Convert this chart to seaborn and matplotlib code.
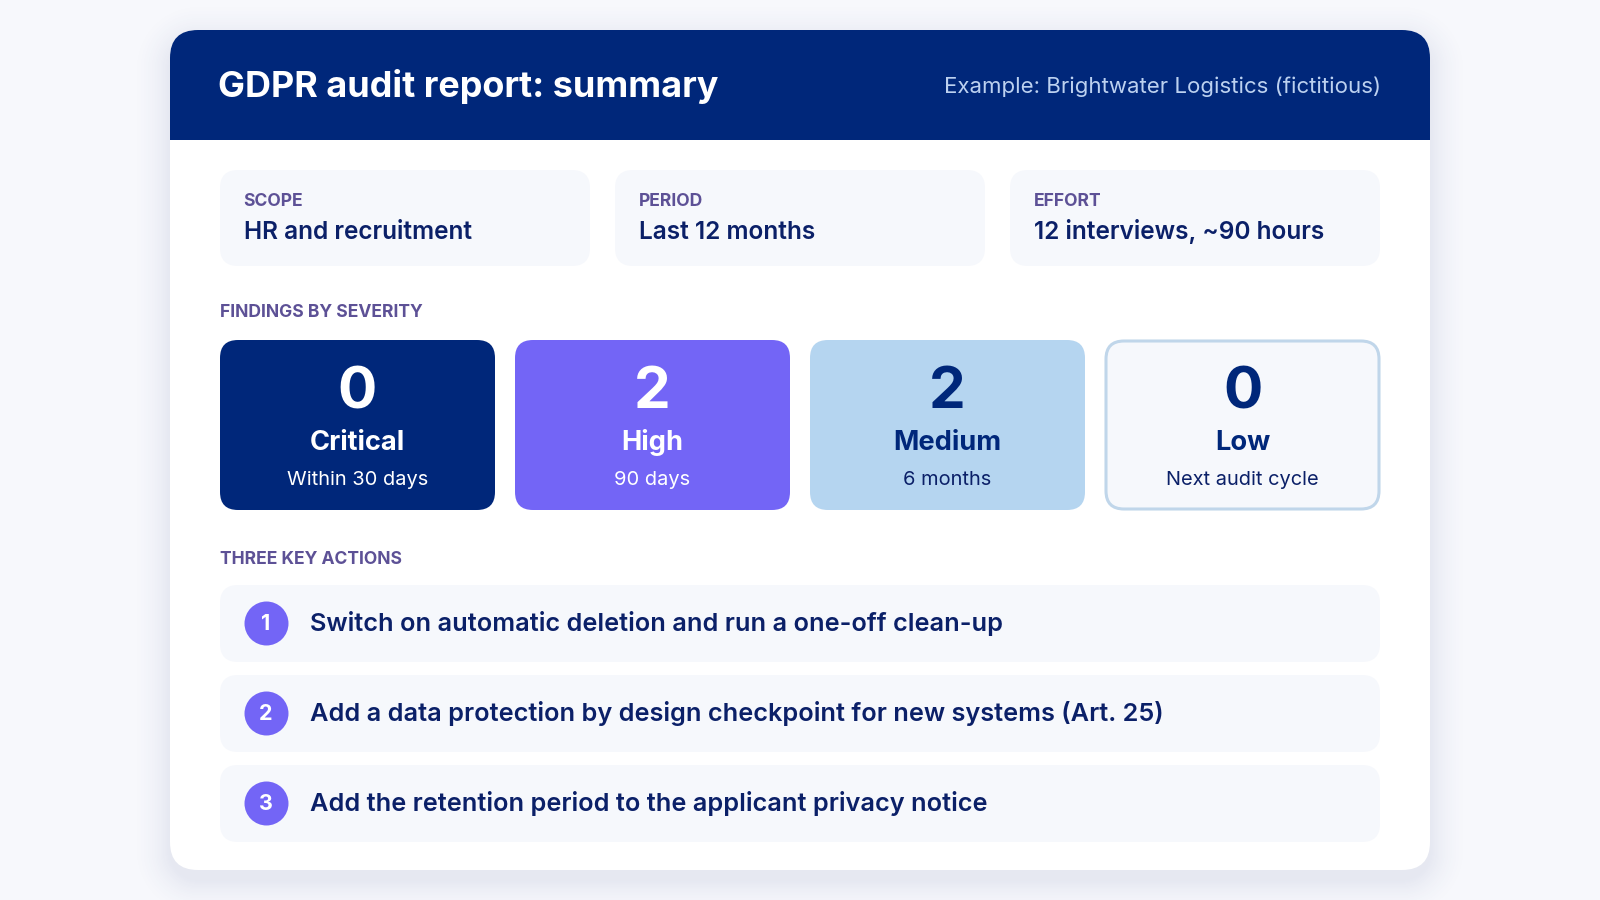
import matplotlib
matplotlib.use("Agg")
import matplotlib.pyplot as plt
from matplotlib.patches import FancyBboxPatch, Rectangle
import numpy as np
import pandas as pd
import seaborn as sns

title = "GDPR audit report: summary"
subtitle = "Example: Brightwater Logistics (fictitious)"

meta_labels = ["SCOPE", "PERIOD", "EFFORT"]
meta_values = ["HR and recruitment", "Last 12 months", "12 interviews, ~90 hours"]

severity = ["Critical", "High", "Medium", "Low"]
counts = [0, 2, 2, 0]
deadlines = ["Within 30 days", "90 days", "6 months", "Next audit cycle"]

actions = [
    "Switch on automatic deletion and run a one-off clean-up",
    "Add a data protection by design checkpoint for new systems (Art. 25)",
    "Add the retention period to the applicant privacy notice",
]
action_nums = [1, 2, 3]

NAVY = "#00277a"
INK = "#0b2068"
VIOLET = "#7365f6"
SKY = "#b5d5f0"
PALE = "#f6f8fc"
PURPLE = "#5d5196"

sns.set_theme(style="white")
plt.rcParams["font.family"] = ["Inter", "DejaVu Sans"]

fig = plt.figure(figsize=(16, 9), dpi=100, facecolor="#f7f8fc")
ax = fig.add_axes([0, 0, 1, 1])
ax.set_xlim(0, 1600)
ax.set_ylim(900, 0)
ax.axis("off")


def rbox(x, y, w, h, r, fc, ec="none", lw=0, z=2, alpha=None):
    p = FancyBboxPatch((x + r, y + r), w - 2 * r, h - 2 * r,
                       boxstyle=f"round,pad={r},rounding_size={r}",
                       fc=fc, ec=ec, lw=lw, zorder=z, alpha=alpha)
    ax.add_patch(p)
    return p


# soft shadow under the card, distance from a rounded rect pushed down a bit
xx, yy = np.meshgrid(np.arange(1600) + 0.5, np.arange(900) + 0.5)
qx = np.abs(xx - 800) - (630 - 28)
qy = np.abs(yy - 460) - (420 - 28)
dist = np.hypot(np.maximum(qx, 0), np.maximum(qy, 0)) - 28
fade = np.clip(1 - dist / 42, 0, 1) ** 2 * 0.085
shadow = np.zeros((900, 1600, 4))
shadow[..., :3] = matplotlib.colors.to_rgb("#2a3a80")
shadow[..., 3] = fade
ax.imshow(shadow, extent=(0, 1600, 900, 0), zorder=1, aspect="auto", interpolation="nearest")
ax.set_xlim(0, 1600)
ax.set_ylim(900, 0)

card = rbox(170, 30, 1260, 840, 28, "white")
head = Rectangle((170, 30), 1260, 110, fc=NAVY, ec="none", zorder=3)
ax.add_patch(head)
head.set_clip_path(card)

ax.text(218, 97, title, color="white", fontsize=25.9, fontweight="bold", zorder=4)
ax.text(1381, 93, subtitle, color="#bcd1f0", fontsize=16, ha="right", zorder=4)

# scope / period / effort boxes
for i, (lab, val) in enumerate(zip(meta_labels, meta_values)):
    x = 220 + i * 395
    rbox(x, 170, 370, 96, 18, PALE)
    ax.text(x + 23.5, 206, lab, color=PURPLE, fontsize=12.6, fontweight="bold", zorder=4)
    ax.text(x + 24, 239, val, color=INK, fontsize=17.6, fontweight="semibold", zorder=4)

ax.text(220, 317, "FINDINGS BY SEVERITY", color=PURPLE, fontsize=12.6, fontweight="bold", zorder=4)

# severity cards
fills = [NAVY, VIOLET, SKY, PALE]
inks = ["white", "white", NAVY, NAVY]
subs = ["white", "white", INK, INK]
for i in range(4):
    x = 220 + i * 295
    if severity[i] == "Low":
        rbox(x + 1, 341, 273, 168, 18, fills[i], ec="#c0d6ea", lw=2.2)
    else:
        rbox(x, 340, 275, 170, 18, fills[i])
    cx = x + 137.5
    ax.text(cx, 408.5, str(counts[i]), color=inks[i], fontsize=42, fontweight="bold", ha="center", zorder=4)
    ax.text(cx, 450, severity[i], color=inks[i], fontsize=19.6, fontweight="bold", ha="center", zorder=4)
    ax.text(cx, 485, deadlines[i], color=subs[i], fontsize=14.4, ha="center", zorder=4)

ax.text(220, 564, "THREE KEY ACTIONS", color=PURPLE, fontsize=12.6, fontweight="bold", zorder=4)

# action rows
row_y = [585, 675, 765]
for y in row_y:
    rbox(220, y, 1160, 77, 18, PALE)

df = pd.DataFrame({"x": [266] * 3, "y": [y + 38 for y in row_y], "n": action_nums})
sns.scatterplot(data=df, x="x", y="y", ax=ax, color=VIOLET, s=1003, linewidth=0, legend=False, zorder=4)
ax.set_xlabel("")
ax.set_ylabel("")

for y, n, txt in zip(row_y, action_nums, actions):
    ax.text(266, y + 45.5, str(n), color="white", fontsize=15.5, fontweight="bold", ha="center", zorder=5)
    ax.text(310, y + 46.5, txt, color=INK, fontsize=18.25, fontweight="semibold", zorder=5)

fig.savefig("out.png", dpi=100, facecolor=fig.get_facecolor())
